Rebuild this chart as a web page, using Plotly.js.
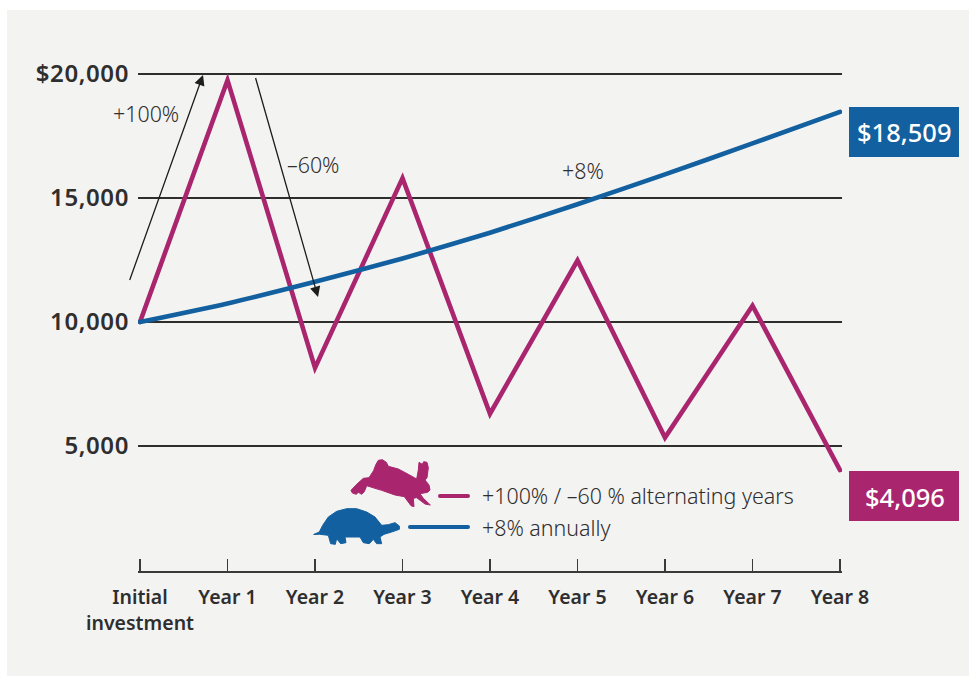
<!DOCTYPE html>
<html><head><meta charset="utf-8">
<script src="https://cdn.plot.ly/plotly-3.0.1.min.js"></script>
<style>
html,body{margin:0;padding:0;background:#fff;width:969px;height:676px;overflow:hidden}
#chart{position:absolute;left:7px;top:10px;width:962px;height:666px}
.js-line{stroke-linejoin:miter!important;stroke-miterlimit:10!important;stroke-linecap:round!important}
.shapelayer path{stroke-linecap:round}
.ytick text{letter-spacing:.6px}
</style></head><body><div id="chart"></div>
<script>
const categories=["Initial<br>investment","Year 1","Year 2","Year 3","Year 4","Year 5","Year 6","Year 7","Year 8"];
const alternating=[10000,19750,8150,15800,6300,12480,5340,10660,4030];
const steady=[10000,10750,11620,12560,13600,14750,15950,17200,18470];
const yTickVals=[5000,10000,15000,20000];
const yTickText=["5,000","10,000","15,000","$20,000"];
const endLabels=["$18,509","$4,096"];
const PURPLE="#a9266f",BLUE="#12609f",INK="#2f2e2e",PANEL="#f3f3f2";
const FONT="Noto Sans";
const W=962,H=666,L=131,R=127,T=50,B=105;
const px=x=>(x-7-L)/(W-L-R), py=y=>(H-B-(y-10))/(H-T-B);
const rabbit=[[93,28],[100,16],[112,14],[124,22],[130,34],[160,42],[190,58],[215,72],[220,45],[222,22],[232,28],[236,20],[246,22],[250,38],[246,68],[240,75],[252,90],[255,105],[248,112],[225,116],[235,130],[256,150],[240,147],[215,128],[205,130],[207,155],[198,152],[178,125],[150,120],[110,106],[90,100],[65,92],[58,110],[50,118],[40,112],[34,118],[22,114],[18,106],[35,88],[55,70],[72,68],[85,48]];
const turtle=[[12,97],[28,90],[38,70],[55,45],[80,28],[110,20],[140,20],[170,30],[195,45],[215,70],[235,68],[255,62],[268,72],[268,82],[245,90],[222,97],[210,105],[215,125],[200,125],[190,112],[178,125],[160,122],[150,105],[105,105],[108,122],[92,125],[80,110],[76,127],[62,125],[55,100],[30,97]];
const icon=(pts,ox,oy,c)=>({type:'path',xref:'paper',yref:'paper',fillcolor:c,line:{color:c,width:1},
 path:pts.map((p,i)=>(i?'L':'M')+px(ox+p[0]/3)+','+py(oy+p[1]/3)).join(' ')+' Z'});
const rect=(x0,y0,x1,y1,c)=>({type:'rect',xref:'paper',yref:'paper',x0:px(x0),x1:px(x1),y0:py(y0),y1:py(y1),fillcolor:c,line:{width:0}});
const seg=(x0,x1,y,c)=>({type:'line',xref:'paper',yref:'paper',x0:px(x0),x1:px(x1),y0:py(y),y1:py(y),line:{color:c,width:4}});
const txt=(t,x,y,o={})=>Object.assign({xref:'paper',yref:'paper',x:px(x),y:py(y),text:t,showarrow:false,xanchor:'center',yanchor:'middle',
 font:{family:FONT,size:21.4,color:INK,weight:300}},o);
const arrow=(x0,y0,x1,y1)=>({xref:'paper',yref:'paper',x:px(x1),y:py(y1),ax:x0-x1,ay:y0-y1,text:' ',font:{size:1},showarrow:true,arrowhead:2,arrowsize:1.6,arrowwidth:1.3,arrowcolor:'#1d1d1b',standoff:0,startstandoff:0});
const whiteBold={family:FONT,size:25.5,color:'#fff',weight:500};
const data=[
 {x:categories,y:alternating,mode:'lines',line:{color:PURPLE,width:4.6},cliponaxis:false,hoverinfo:'skip'},
 {x:categories,y:steady,mode:'lines',line:{color:BLUE,width:4.6,shape:'spline',smoothing:0.6},cliponaxis:false,hoverinfo:'skip'}
];
const yBottom=10000-(571-322)/124*5000, yTop=10000+(322-60)/124*5000;
const pad=2/87.5;
const layout={width:W,height:H,showlegend:false,paper_bgcolor:PANEL,plot_bgcolor:PANEL,
 margin:{l:L,r:R,t:T,b:B,pad:0},
 xaxis:{type:'category',categoryorder:'array',categoryarray:categories,range:[-pad,8+pad],showgrid:false,zeroline:false,showline:true,linecolor:'#3a3a3a',linewidth:1.8,
  ticks:'inside',ticklen:12,tickwidth:1.8,tickcolor:'#3a3a3a',tickangle:0,ticklabelstandoff:8,tickfont:{family:FONT,size:19.5,color:INK,weight:600}},
 yaxis:{range:[yBottom,yTop],tickvals:yTickVals,ticktext:yTickText,showgrid:true,gridcolor:'#2f2e2d',gridwidth:1.2,zeroline:false,showline:false,ticks:'',ticklabelstandoff:8,
  tickfont:{family:FONT,size:24,color:INK,weight:600}},
 shapes:[rect(849,107,959,157,BLUE),rect(849,471,959,521,PURPLE),seg(440,468,496,PURPLE),seg(410,468,527,BLUE),icon(rabbit,345,455,PURPLE),icon(turtle,310,502,BLUE)],
 annotations:[arrow(129,282,203,75),arrow(255,76,318,297),
  txt('+100%',146,113),txt('–60%',313,164),txt('+8%',583,170),
  txt(endLabels[0],904,132,{font:whiteBold}),txt(endLabels[1],905,497,{font:whiteBold}),
  txt('+100% / –60 % alternating years',480,495,{xanchor:'left'}),txt('+8% annually',480,527,{xanchor:'left'})]
};
Plotly.newPlot('chart',data,layout,{staticPlot:true,displayModeBar:false});
</script></body></html>
